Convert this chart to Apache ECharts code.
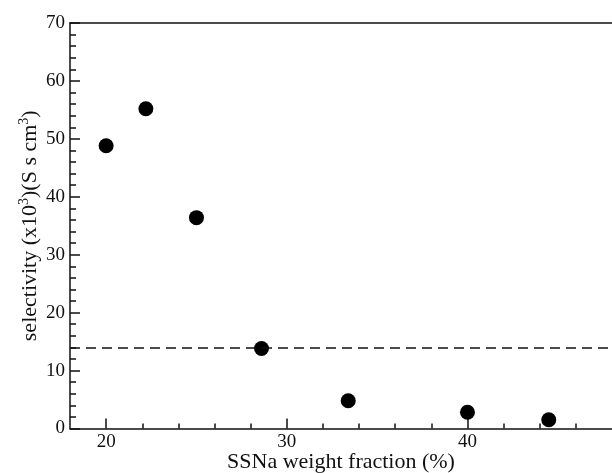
<!DOCTYPE html>
<html>
<head>
<meta charset="utf-8">
<script src="https://cdn.jsdelivr.net/npm/echarts@6/dist/echarts.min.js"></script>
<style>
  html, body { margin: 0; padding: 0; background: #fff; }
  #chart { width: 612px; height: 473px; }
</style>
</head>
<body>
<div id="chart"></div>
<script>
// SSNa weight fraction (%) and membrane selectivity (x10^3 S s cm^-3)
const wtFraction = [20, 22.2, 25, 28.6, 33.4, 40, 44.5];
const selectivity = [48.8, 55.2, 36.4, 13.8, 4.8, 2.8, 1.5];
// reference selectivity level drawn as a dashed line
const referenceLevel = 14;

const xMajorTicks = [20, 30, 40];
const xMinorTicks = [20, 22, 24, 26, 28, 30, 32, 34, 36, 38, 40, 42, 44, 46];

const serif = 'Liberation Serif';
const ink = '#111';

const chart = echarts.init(document.getElementById('chart'), null, { renderer: 'canvas' });

const baseX = {
  type: 'value',
  min: 18,
  max: 48,
  splitLine: { show: false }
};

chart.setOption({
  animation: false,
  backgroundColor: '#fff',
  grid: {
    left: 70, right: 0, top: 23, bottom: 44.5,
    containLabel: false,
    outerBoundsMode: 'none'
  },
  xAxis: [
    Object.assign({}, baseX, {
      position: 'bottom',
      name: 'SSNa weight fraction (%)',
      nameLocation: 'middle',
      nameGap: 23,
      nameMoveOverlap: false,
      nameTextStyle: { fontFamily: serif, fontSize: 22, color: ink },
      axisLine: { lineStyle: { color: ink, width: 1.5 } },
      axisTick: { inside: true, length: 10, customValues: xMajorTicks, lineStyle: { color: ink, width: 1.5 } },
      axisLabel: { customValues: xMajorTicks, fontFamily: serif, fontSize: 19, color: ink, margin: 4 }
    }),
    Object.assign({}, baseX, {
      position: 'bottom',
      axisLine: { show: false },
      axisTick: { inside: true, length: 5, customValues: xMinorTicks, lineStyle: { color: ink, width: 1.5 } },
      axisLabel: { show: false }
    }),
    Object.assign({}, baseX, {
      position: 'top',
      axisLine: { lineStyle: { color: ink, width: 1.5 } },
      axisTick: { show: false },
      axisLabel: { show: false }
    })
  ],
  yAxis: {
    type: 'value',
    min: 0,
    max: 70,
    interval: 10,
    name: '{a|selectivity (x10}{s|3}{a|)(S s cm}{s|3}{a|)}',
    nameLocation: 'middle',
    nameGap: 27,
    nameMoveOverlap: false,
    nameRotate: 90,
    nameTextStyle: {
      rich: {
        a: { fontFamily: serif, fontSize: 22, color: ink, lineHeight: 26 },
        s: { fontFamily: serif, fontSize: 14, color: ink, verticalAlign: 'top', lineHeight: 26, padding: [0, 0, 12, 0] }
      }
    },
    splitLine: { show: false },
    axisLine: { show: true, lineStyle: { color: ink, width: 1.5 } },
    axisTick: { inside: true, length: 10, lineStyle: { color: ink, width: 1.5 } },
    minorTick: { show: true, splitNumber: 5, length: 6, lineStyle: { color: ink, width: 1.5 } },
    axisLabel: { fontFamily: serif, fontSize: 19, color: ink, margin: 5 }
  },
  series: [{
    type: 'scatter',
    xAxisIndex: 0,
    data: wtFraction.map((x, i) => [x, selectivity[i]]),
    symbol: 'circle',
    symbolSize: 15,
    itemStyle: { color: '#000', opacity: 1 },
    markLine: {
      silent: true,
      symbol: 'none',
      label: { show: false },
      lineStyle: { color: ink, width: 1.5, type: [10, 6] },
      data: [{ yAxis: referenceLevel }]
    }
  }]
});
</script>
</body>
</html>
